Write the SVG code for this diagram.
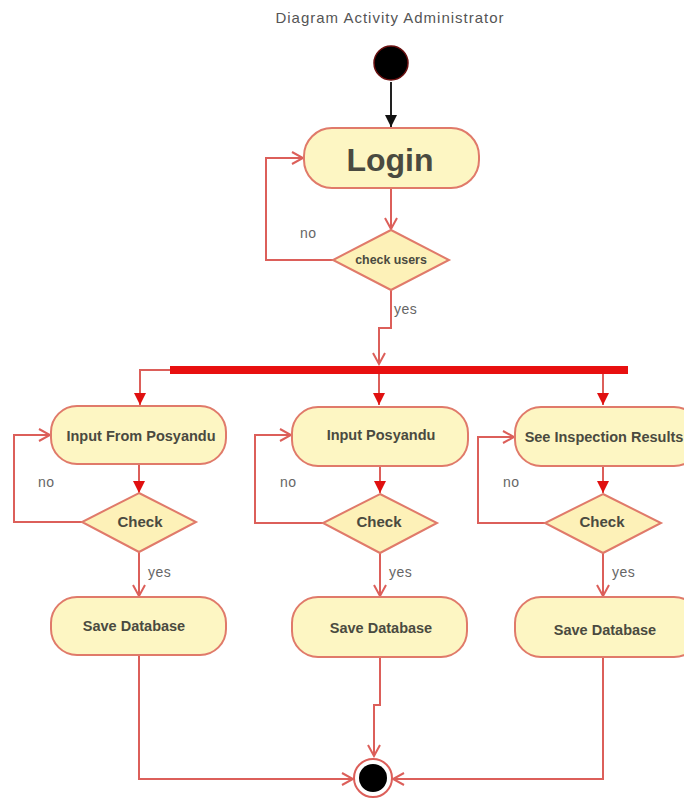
<svg xmlns="http://www.w3.org/2000/svg" width="684" height="798" viewBox="0 0 684 798">
  <style>
    .act { fill: #fdf6c3; stroke: #e07a6a; stroke-width: 2; }
    .dec { fill: #fdf1b8; stroke: #e07a6a; stroke-width: 2; }
    .lbl { font-family: "Liberation Sans", Arial, sans-serif; font-weight: bold; fill: #4a4a40; text-anchor: middle; }
    .box { font-size: 14.5px; }
    .note { font-family: "Liberation Sans", Arial, sans-serif; font-size: 14px; letter-spacing: 0.5px; fill: #666; }
    .edge { fill: none; stroke: #dc5f5a; stroke-width: 2; }
  </style>
  <defs>
    <marker id="open" markerWidth="14" markerHeight="14" refX="12" refY="7" orient="auto" markerUnits="userSpaceOnUse">
      <path d="M1,1 L12,7 L1,13" fill="none" stroke="#dc5f5a" stroke-width="2"/>
    </marker>
    <marker id="solid" markerWidth="14" markerHeight="14" refX="12" refY="7" orient="auto" markerUnits="userSpaceOnUse">
      <path d="M0,1 L12,7 L0,13 Z" fill="#e01010"/>
    </marker>
    <marker id="blk" markerWidth="14" markerHeight="14" refX="12" refY="7" orient="auto" markerUnits="userSpaceOnUse">
      <path d="M0,1 L12,7 L0,13 Z" fill="#111"/>
    </marker>
  </defs>
  <rect width="684" height="798" fill="#ffffff"/>

  <text x="390" y="23" font-family="Liberation Sans, Arial, sans-serif" font-size="15" letter-spacing="1" fill="#555" text-anchor="middle">Diagram Activity Administrator</text>

  <g id="connectors">
    <line x1="391" y1="82" x2="391" y2="127" stroke="#222" stroke-width="2" marker-end="url(#blk)"/>
    <line class="edge" x1="391" y1="188" x2="391" y2="229" marker-end="url(#open)"/>
    <polyline class="edge" points="333,260 266,260 266,158 303,158" marker-end="url(#open)"/>
    <polyline class="edge" points="391,290 391,328 379,328 379,364" marker-end="url(#open)"/>
    <!-- fork branches -->
    <polyline class="edge" points="170,370 140,370 140,405" marker-end="url(#solid)"/>
    <line class="edge" x1="379" y1="373" x2="379" y2="405" marker-end="url(#solid)"/>
    <line class="edge" x1="603" y1="373" x2="603" y2="405" marker-end="url(#solid)"/>
    <!-- activity to check -->
    <line class="edge" x1="139" y1="464" x2="139" y2="493" marker-end="url(#solid)"/>
    <line class="edge" x1="380" y1="466" x2="380" y2="493" marker-end="url(#solid)"/>
    <line class="edge" x1="603" y1="466" x2="603" y2="493" marker-end="url(#solid)"/>
    <!-- no loops -->
    <polyline class="edge" points="82,522 14,522 14,435 50,435" marker-end="url(#open)"/>
    <polyline class="edge" points="323,523 255,523 255,435 291,435" marker-end="url(#open)"/>
    <polyline class="edge" points="545,523 478,523 478,437 514,437" marker-end="url(#open)"/>
    <!-- yes to save -->
    <line class="edge" x1="139" y1="552" x2="139" y2="596" marker-end="url(#open)"/>
    <line class="edge" x1="380" y1="553" x2="380" y2="596" marker-end="url(#open)"/>
    <line class="edge" x1="603" y1="553" x2="603" y2="596" marker-end="url(#open)"/>
    <!-- save to end -->
    <polyline class="edge" points="139,655 139,779 353,779" marker-end="url(#open)"/>
    <polyline class="edge" points="380,657 380,705 374,705 374,756" marker-end="url(#open)"/>
    <polyline class="edge" points="603,657 603,779 393,779" marker-end="url(#open)"/>
  </g>

  <g id="start">
    <circle cx="391" cy="63" r="17" fill="#000" stroke="#6a1010" stroke-width="1.5"/>
  </g>

  <g id="login">
    <rect class="act" x="304" y="128" width="175" height="60" rx="28"/>
    <text class="lbl" x="390" y="171" font-size="32">Login</text>
  </g>

  <g id="check-users">
    <polygon class="dec" points="391,230 449,260 391,290 333,260"/>
    <text class="lbl" x="391" y="264" font-size="12.4">check users</text>
  </g>
  <text class="note" x="300" y="238">no</text>
  <text class="note" x="394" y="314">yes</text>

  <g id="fork">
    <rect x="170" y="366" width="458" height="8" fill="#e81010"/>
  </g>

  <g id="input-from-posyandu">
    <rect class="act" x="51" y="406" width="175" height="58" rx="26"/>
    <text class="lbl box" x="141" y="441">Input From Posyandu</text>
  </g>
  <g id="check-1">
    <polygon class="dec" points="139,493 196,522 139,552 82,522"/>
    <text class="lbl" x="140" y="527" font-size="15">Check</text>
  </g>
  <text class="note" x="38" y="487">no</text>
  <text class="note" x="148" y="577">yes</text>
  <g id="save-1">
    <rect class="act" x="51" y="597" width="175" height="58" rx="26"/>
    <text class="lbl box" x="134" y="631">Save Database</text>
  </g>

  <g id="input-posyandu">
    <rect class="act" x="292" y="407" width="176" height="59" rx="26"/>
    <text class="lbl box" x="381" y="440">Input Posyandu</text>
  </g>
  <g id="check-2">
    <polygon class="dec" points="380,494 437,523 380,553 323,523"/>
    <text class="lbl" x="379" y="527" font-size="15">Check</text>
  </g>
  <text class="note" x="280" y="487">no</text>
  <text class="note" x="389" y="577">yes</text>
  <g id="save-2">
    <rect class="act" x="292" y="597" width="175" height="60" rx="26"/>
    <text class="lbl box" x="381" y="633">Save Database</text>
  </g>

  <g id="see-inspection-results">
    <rect class="act" x="515" y="407" width="185" height="59" rx="26"/>
    <text class="lbl box" x="604" y="442">See Inspection Results</text>
  </g>
  <g id="check-3">
    <polygon class="dec" points="603,494 661,523 603,553 545,523"/>
    <text class="lbl" x="602" y="527" font-size="15">Check</text>
  </g>
  <text class="note" x="503" y="487">no</text>
  <text class="note" x="612" y="577">yes</text>
  <g id="save-3">
    <rect class="act" x="515" y="597" width="185" height="60" rx="26"/>
    <text class="lbl box" x="605" y="635">Save Database</text>
  </g>

  <g id="end">
    <circle cx="373" cy="778" r="19" fill="#fff" stroke="#dc5f5a" stroke-width="2"/>
    <circle cx="373" cy="778" r="14" fill="#000"/>
  </g>
</svg>
